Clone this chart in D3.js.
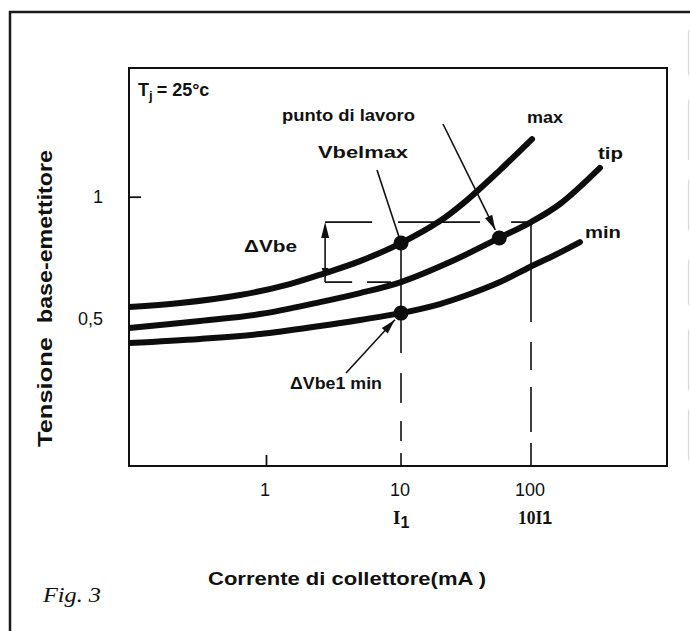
<!DOCTYPE html>
<html>
<head>
<meta charset="utf-8">
<script src="https://cdn.jsdelivr.net/npm/d3@7"></script>
<style>
  html, body { margin: 0; padding: 0; background: #fff; }
  svg { display: block; }
</style>
</head>
<body>
<script>
// Base–emitter voltage (V) against collector current (mA), Tj = 25 °C
const maxCurrent = [0.097, 0.231, 0.642, 1.5, 2.74, 4.97, 10, 19.9, 32.2, 57.7, 101.8];
const maxVoltage = [0.548, 0.564, 0.597, 0.642, 0.687, 0.736, 0.810, 0.900, 0.986, 1.109, 1.236];
const tipCurrent = [0.097, 0.324, 0.903, 2.51, 4.97, 10, 23.8, 57, 100, 167, 339];
const tipVoltage = [0.462, 0.491, 0.519, 0.568, 0.605, 0.650, 0.732, 0.831, 0.896, 0.970, 1.118];
const minCurrent = [0.097, 0.324, 0.903, 2.51, 4.97, 10, 19.9, 33.9, 57.7, 98.2, 153, 238];
const minVoltage = [0.400, 0.417, 0.437, 0.470, 0.495, 0.523, 0.560, 0.601, 0.650, 0.712, 0.761, 0.814];

// Marked operating points: Vbe1max, punto di lavoro, Vbe1 min
const pointCurrent = [10, 57, 10];
const pointVoltage = [0.810, 0.831, 0.523];

// I1 and 10·I1, and the current where the ΔVbe bracket is drawn
const currentI1 = 10;
const currentTenI1 = 100;
const bracketCurrent = 2.74;
const deltaHigh = tipVoltage[tipCurrent.indexOf(currentTenI1)];
const deltaLow = tipVoltage[tipCurrent.indexOf(currentI1)];

// Axis ticks
const currentTicks = [1, 10, 100];
const currentTickLabels = ["1", "10", "100"];
const voltageTicks = [1];
const voltageLabelValues = [0.5, 1];
const voltageLabelTexts = ["0,5", "1"];

const W = 690, H = 631;
const box = { left: 129, top: 68, right: 667, bottom: 466 };
const sans = "'Liberation Sans', Arial, Helvetica, sans-serif";
const serif = "'Liberation Serif', 'DejaVu Serif', serif";

const x = d3.scaleLog().domain([1, 10, 100]).range([266, 401, 531]);
const y = d3.scaleLinear().domain([0.5, 1]).range([318.7, 196.7]);

const svg = d3.select("body").append("svg")
  .attr("width", W).attr("height", H);

// Page frame
svg.append("path")
  .attr("d", `M10,${H} V12 H${W}`)
  .attr("fill", "none").attr("stroke", "#1a1a1a").attr("stroke-width", 2.5);
svg.append("line")
  .attr("x1", 688.5).attr("x2", 688.5).attr("y1", 30).attr("y2", 480)
  .attr("stroke", "#d8d8d8").attr("stroke-width", 1.2)
  .attr("stroke-dasharray", "45 25 60 20 50 30");

// Plot box
svg.append("rect")
  .attr("x", box.left).attr("y", box.top)
  .attr("width", box.right - box.left).attr("height", box.bottom - box.top)
  .attr("fill", "none").attr("stroke", "#111").attr("stroke-width", 2);

// Ticks
const bottomAxis = d3.axisBottom(x).tickValues(currentTicks).tickFormat("").tickSizeInner(-11).tickSizeOuter(0);
const gx = svg.append("g").attr("transform", `translate(0,${box.bottom})`).call(bottomAxis);
gx.select(".domain").remove();
gx.selectAll(".tick line").attr("stroke", "#111").attr("stroke-width", 1.8)
  .attr("display", d => d === 1 ? null : "none");

const leftAxis = d3.axisLeft(y).tickValues(voltageTicks).tickFormat("").tickSizeInner(-12).tickSizeOuter(0);
const gy = svg.append("g").attr("transform", `translate(${box.left},0)`).call(leftAxis);
gy.select(".domain").remove();
gy.selectAll(".tick line").attr("stroke", "#111").attr("stroke-width", 1.8);

// Tick labels
svg.append("g").selectAll("text").data(currentTicks).join("text")
  .attr("x", d => x(d) - 1).attr("y", 496)
  .attr("text-anchor", "middle")
  .attr("font-family", sans).attr("font-size", 18).attr("fill", "#111")
  .text((d, i) => currentTickLabels[i]);

svg.append("g").selectAll("text").data(voltageLabelValues).join("text")
  .attr("x", 103).attr("y", d => y(d) + 6)
  .attr("text-anchor", "end")
  .attr("font-family", sans).attr("font-size", 18).attr("fill", "#111")
  .text((d, i) => voltageLabelTexts[i]);

// I1 and 10·I1 labels under the axis
const i1 = svg.append("text").attr("x", x(currentI1) - 8).attr("y", 524)
  .attr("font-family", serif).attr("font-weight", "bold").attr("font-size", 19).attr("fill", "#111");
i1.append("tspan").text("I");
i1.append("tspan").attr("font-family", sans).attr("font-size", 16).attr("dy", 4).text("1");

const ti1 = svg.append("text").attr("x", x(currentTenI1) - 13).attr("y", 524)
  .attr("font-family", serif).attr("font-weight", "bold").attr("font-size", 18).attr("fill", "#111")
  .attr("textLength", 34).attr("lengthAdjust", "spacingAndGlyphs");
ti1.append("tspan").text("10I");
ti1.append("tspan").attr("font-family", sans).text("1");

// Guide lines
const guide = (x1, y1, x2, y2, dash) => svg.append("line")
  .attr("x1", x1).attr("y1", y1).attr("x2", x2).attr("y2", y2)
  .attr("stroke", "#111").attr("stroke-width", 1.6)
  .attr("stroke-dasharray", dash || null);

// I1 line: solid between the two operating points, broken below
guide(x(currentI1), y(pointVoltage[0]), x(currentI1), y(pointVoltage[2]));
guide(x(currentI1), y(pointVoltage[2]), x(currentI1), box.bottom, "40 20 30 18 20 12 20");
// 10·I1 line
guide(x(currentTenI1), y(deltaHigh), x(currentTenI1), box.bottom, "100 20 28 17 45 11 30");
// ΔVbe levels
guide(x(bracketCurrent), y(deltaHigh), x(currentTenI1), y(deltaHigh), "47 26 82 31 30");
guide(x(bracketCurrent), y(deltaLow), x(currentI1) - 10, y(deltaLow), "27 15 30");
guide(x(bracketCurrent), y(deltaHigh) + 8, x(bracketCurrent), y(deltaLow));

// Arrowhead helper
function head(tx, ty, fx, fy, len, wid) {
  const dx = tx - fx, dy = ty - fy, L = Math.hypot(dx, dy);
  const ux = dx / L, uy = dy / L, bx = tx - ux * len, by = ty - uy * len;
  svg.append("path")
    .attr("d", `M${tx},${ty} L${bx - uy * wid / 2},${by + ux * wid / 2} L${bx + uy * wid / 2},${by - ux * wid / 2} Z`)
    .attr("fill", "#111");
}
const bx = x(bracketCurrent);
head(bx, y(deltaHigh), bx, y(deltaLow), 16, 8);
head(bx, y(deltaLow) - 5, bx, y(deltaHigh), 9, 7);

// Curves
const curveData = [
  d3.zip(maxCurrent, maxVoltage),
  d3.zip(tipCurrent, tipVoltage),
  d3.zip(minCurrent, minVoltage)
];
svg.append("clipPath").attr("id", "plot-area").append("rect")
  .attr("x", box.left).attr("y", box.top)
  .attr("width", box.right - box.left).attr("height", box.bottom - box.top);
const line = d3.line().x(d => x(d[0])).y(d => y(d[1])).curve(d3.curveCatmullRom.alpha(0.5));
svg.append("g").attr("clip-path", "url(#plot-area)")
  .selectAll("path").data(curveData).join("path")
  .attr("d", line)
  .attr("fill", "none").attr("stroke", "#0d0d0d")
  .attr("stroke-width", 6).attr("stroke-linecap", "round");

// Operating points
svg.append("g").selectAll("circle").data(pointCurrent).join("circle")
  .attr("cx", d => x(d)).attr("cy", (d, i) => y(pointVoltage[i]))
  .attr("r", 7.5).attr("fill", "#0d0d0d");

// Pointers
function pointer(fx, fy, cx, cy, gap, withHead) {
  const dx = cx - fx, dy = cy - fy, L = Math.hypot(dx, dy);
  const tx = cx - dx / L * gap, ty = cy - dy / L * gap;
  svg.append("line").attr("x1", fx).attr("y1", fy).attr("x2", tx).attr("y2", ty)
    .attr("stroke", "#111").attr("stroke-width", 1.6);
  if (withHead) head(tx, ty, fx, fy, 15, 8);
}
pointer(377, 170, x(pointCurrent[0]), y(pointVoltage[0]), 6, false);
pointer(443, 124, x(pointCurrent[1]), y(pointVoltage[1]), 9, true);
pointer(346, 373, x(pointCurrent[2]), y(pointVoltage[2]), 9, true);

// Labels
function label(txt, lx, ly, len, size) {
  return svg.append("text").attr("x", lx).attr("y", ly)
    .attr("font-family", sans).attr("font-weight", "bold")
    .attr("font-size", size || 17).attr("fill", "#111")
    .attr("textLength", len).attr("lengthAdjust", "spacingAndGlyphs")
    .text(txt);
}
const tj = svg.append("text").attr("x", 138).attr("y", 96)
  .attr("font-family", sans).attr("font-weight", "bold").attr("font-size", 18).attr("fill", "#111");
tj.append("tspan").text("T");
tj.append("tspan").attr("font-size", 13).attr("dy", 4).text("j");
tj.append("tspan").attr("dy", -4).attr("dx", 4).text("= 25°c");

label("punto di lavoro", 282, 121, 133);
label("max", 527, 123, 36);
label("Vbelmax", 318, 158, 90);
label("tip", 598, 159, 25);
label("ΔVbe", 244, 252, 53);
label("min", 585, 238, 36);
label("ΔVbe1 min", 290, 389, 92);

// Axis titles
svg.append("text")
  .attr("transform", "translate(51.5,447) rotate(-90)")
  .attr("font-family", sans).attr("font-weight", "bold").attr("font-size", 20).attr("fill", "#111")
  .attr("textLength", 110).attr("lengthAdjust", "spacingAndGlyphs")
  .text("Tensione");
svg.append("text")
  .attr("transform", "translate(51.5,323) rotate(-90)")
  .attr("font-family", sans).attr("font-weight", "bold").attr("font-size", 20).attr("fill", "#111")
  .attr("textLength", 173).attr("lengthAdjust", "spacingAndGlyphs")
  .text("base-emettitore");

label("Corrente di collettore(mA )", 208, 585, 278, 19);

svg.append("text").attr("x", 43).attr("y", 602)
  .attr("font-family", serif).attr("font-style", "italic").attr("font-size", 22).attr("fill", "#111")
  .attr("textLength", 58).attr("lengthAdjust", "spacingAndGlyphs")
  .text("Fig. 3");
</script>
</body>
</html>
